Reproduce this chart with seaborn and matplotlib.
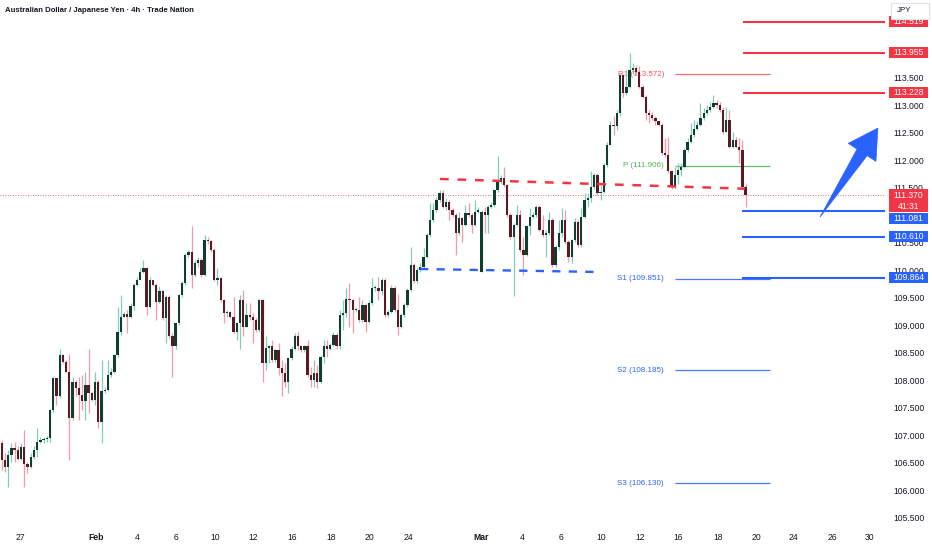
"""AUD/JPY 4h candlestick chart with support / resistance levels."""

import matplotlib

matplotlib.use("Agg")
import matplotlib.pyplot as plt
import matplotlib.transforms as mtransforms
import numpy as np
import seaborn as sns
from matplotlib.patches import Polygon, Rectangle

TITLE = "Australian Dollar / Japanese Yen \u00b7 4h \u00b7 Trade Nation"

# 4h candles (open = previous close unless listed in gap_opens)
first_open = 106.86
closes = [
    106.55, 106.43, 106.65, 106.77, 106.74, 106.58, 106.79, 106.49, 106.43, 106.60,
    106.74, 106.89, 106.92, 106.93, 106.95, 107.46, 108.04, 107.71, 108.46, 108.34,
    108.16, 107.31, 107.98, 107.86, 107.74, 107.62, 107.92, 107.77, 107.65, 107.98,
    107.25, 107.80, 107.83, 108.10, 108.16, 108.46, 108.89, 109.16, 109.21, 109.15,
    109.35, 109.74, 109.83, 109.98, 110.04, 109.34, 109.82, 109.74, 109.43, 109.62,
    109.13, 109.51, 108.80, 108.62, 109.04, 109.55, 109.77, 110.28, 110.34, 109.92,
    110.13, 110.19, 109.92, 110.55, 110.54, 110.37, 109.83, 109.86, 109.46, 109.22,
    109.25, 109.16, 108.89, 109.04, 109.46, 108.98, 109.19, 109.16, 109.10, 108.92,
    109.46, 108.31, 108.59, 108.62, 108.37, 108.56, 108.22, 108.13, 107.98, 108.40,
    108.58, 108.80, 108.62, 108.56, 108.62, 108.10, 108.01, 108.13, 107.98, 108.43,
    108.62, 108.58, 108.65, 108.83, 108.62, 109.19, 109.22, 109.49, 109.46, 109.28,
    109.29, 109.10, 109.37, 109.07, 109.40, 109.68, 109.68, 109.63, 109.83, 109.19,
    109.25, 109.68, 109.28, 108.98, 109.19, 109.37, 109.65, 110.10, 109.80, 110.01,
    110.07, 110.25, 110.65, 110.92, 111.10, 111.28, 111.40, 111.16, 111.25, 111.10,
    111.01, 110.68, 110.95, 110.83, 111.04, 111.01, 110.83, 111.07, 111.10, 111.07,
    111.01, 111.16, 111.19, 111.46, 111.61, 111.68, 111.55, 111.01, 110.61, 110.83,
    111.01, 110.37, 110.28, 110.80, 110.98, 111.01, 111.16, 110.74, 110.65, 110.68,
    110.92, 110.10, 110.43, 110.68, 110.92, 110.52, 110.25, 110.55, 110.89, 110.46,
    110.98, 111.28, 111.31, 111.52, 111.74, 111.40, 111.43, 111.92, 112.28, 112.65,
    112.62, 112.86, 113.55, 113.22, 113.34, 113.65, 113.68, 113.61, 113.34, 113.16,
    112.86, 112.83, 112.77, 112.71, 112.65, 112.13, 112.10, 111.80, 111.52, 111.74,
    111.83, 111.89, 112.19, 112.34, 112.46, 112.58, 112.65, 112.77, 112.86, 112.92,
    112.98, 113.04, 113.01, 112.92, 112.52, 112.74, 112.25, 112.37, 112.25, 112.19,
    111.52, 111.37,
]
highs = [
    106.92, 106.68, 106.74, 106.86, 106.89, 106.80, 106.86, 107.10, 106.52, 106.68,
    106.80, 107.13, 106.98, 106.98, 106.99, 107.49, 108.07, 108.01, 108.58, 108.49,
    108.37, 108.49, 108.07, 108.01, 108.07, 108.10, 108.16, 108.58, 107.80, 108.16,
    108.01, 108.37, 107.89, 108.37, 108.22, 108.49, 109.34, 109.55, 109.25, 109.28,
    109.40, 109.77, 109.89, 110.04, 110.19, 110.07, 109.89, 109.83, 109.77, 109.71,
    109.65, 109.55, 109.55, 108.86, 109.07, 109.58, 109.80, 110.31, 110.37, 110.80,
    110.19, 110.25, 110.22, 110.65, 110.61, 110.55, 110.40, 110.04, 109.89, 109.48,
    109.28, 109.27, 109.52, 109.07, 109.55, 109.65, 109.40, 109.40, 109.22, 109.13,
    109.48, 109.48, 108.80, 108.65, 108.74, 108.58, 108.68, 108.37, 108.31, 108.43,
    108.62, 108.86, 108.89, 108.64, 108.65, 108.74, 108.25, 108.37, 108.28, 108.46,
    108.74, 108.74, 108.68, 108.89, 108.86, 109.28, 109.46, 109.68, 109.77, 109.49,
    109.34, 109.52, 109.46, 109.40, 109.46, 109.86, 109.74, 109.89, 109.86, 109.86,
    109.28, 109.74, 109.71, 109.58, 109.22, 109.40, 109.68, 110.43, 110.13, 110.07,
    110.13, 110.40, 110.68, 111.22, 111.22, 111.34, 111.46, 111.46, 111.31, 111.28,
    111.13, 111.04, 111.07, 110.98, 111.19, 111.22, 111.04, 111.28, 111.16, 111.10,
    111.16, 111.19, 111.25, 111.49, 112.08, 111.74, 111.89, 111.58, 111.04, 110.86,
    111.19, 111.10, 110.61, 110.83, 111.13, 111.07, 111.19, 111.19, 111.01, 110.74,
    111.07, 110.95, 110.46, 110.92, 111.13, 111.10, 110.55, 110.58, 110.95, 110.92,
    111.13, 111.40, 111.40, 111.80, 111.77, 111.77, 111.55, 111.95, 112.34, 112.71,
    112.80, 112.92, 113.58, 113.58, 113.65, 113.96, 113.77, 113.74, 113.71, 113.37,
    113.19, 112.92, 112.89, 112.80, 112.74, 112.68, 112.40, 112.43, 111.83, 111.89,
    111.95, 111.95, 112.22, 112.40, 112.68, 112.74, 112.71, 113.04, 112.95, 113.01,
    113.07, 113.19, 113.10, 113.07, 112.98, 112.98, 112.92, 112.52, 112.43, 112.40,
    112.37, 111.58,
]
lows = [
    106.37, 106.34, 106.07, 106.52, 106.52, 106.55, 106.55, 106.07, 106.31, 106.40,
    106.58, 106.61, 106.86, 106.87, 106.89, 106.89, 107.43, 107.55, 107.68, 108.31,
    108.13, 106.55, 107.28, 107.71, 107.28, 107.46, 107.28, 107.40, 107.62, 107.55,
    107.13, 106.86, 107.77, 107.81, 108.07, 108.14, 108.43, 108.83, 109.15, 108.86,
    109.13, 109.29, 109.72, 109.84, 109.96, 109.19, 109.31, 109.71, 109.10, 109.40,
    109.10, 108.68, 108.77, 108.07, 108.58, 109.01, 109.52, 109.74, 110.25, 109.68,
    109.89, 110.07, 109.89, 109.90, 110.49, 110.34, 109.80, 109.74, 109.43, 109.04,
    109.16, 109.13, 108.86, 108.74, 108.58, 108.80, 108.98, 109.10, 108.68, 108.89,
    108.89, 107.98, 108.19, 108.31, 108.34, 108.34, 108.10, 107.71, 107.89, 107.77,
    108.37, 108.56, 108.56, 108.52, 108.52, 108.07, 107.89, 107.89, 107.86, 107.95,
    108.31, 108.43, 108.56, 108.62, 108.58, 108.58, 108.92, 109.16, 108.98, 108.86,
    109.25, 109.07, 109.07, 108.89, 109.04, 109.37, 109.62, 109.46, 109.55, 109.16,
    109.16, 109.22, 109.25, 108.83, 108.95, 109.16, 109.34, 109.62, 109.77, 109.77,
    109.98, 110.04, 110.22, 110.61, 110.89, 111.07, 111.25, 111.13, 111.10, 110.92,
    110.98, 110.28, 110.65, 110.52, 110.80, 110.98, 110.68, 110.80, 111.04, 109.98,
    110.68, 110.68, 111.13, 111.16, 111.43, 111.58, 111.52, 110.98, 110.58, 109.54,
    110.80, 110.34, 109.92, 110.26, 110.65, 110.95, 110.98, 110.71, 110.61, 110.25,
    110.65, 110.07, 110.07, 110.37, 110.61, 110.49, 110.16, 110.13, 110.52, 110.43,
    110.43, 110.95, 111.16, 111.25, 111.49, 111.37, 111.28, 111.40, 111.89, 112.28,
    112.46, 112.55, 112.80, 113.16, 113.19, 113.31, 113.58, 113.58, 113.31, 113.13,
    112.74, 112.68, 112.74, 112.65, 112.62, 112.10, 112.07, 111.77, 111.49, 111.49,
    111.58, 111.71, 111.86, 112.16, 112.31, 112.43, 112.55, 112.62, 112.74, 112.83,
    112.89, 112.95, 112.95, 112.89, 112.49, 112.52, 112.22, 112.22, 112.22, 111.95,
    111.49, 111.16,
]
# weekend gap (candle index -> open price)
gap_opens = {149: 109.98}

# x axis: candle index where each date label sits
tick_pos = [5.9, 29.2, 42.0, 54.1, 66.2, 78.2, 90.1, 102.3, 114.1, 126.2,
            148.9, 161.6, 173.7, 186.1, 198.2, 210.0, 222.5, 234.3, 246.0, 257.9, 269.4]
tick_labels = ["27", "Feb", "4", "6", "10", "12", "16", "18", "20", "24",
               "Mar", "4", "6", "10", "12", "16", "18", "20", "24", "26", "30"]
# price scale labels (111.000 and 114.000 sit under the level tags)
price_ticks = [105.5, 106.0, 106.5, 107.0, 107.5, 108.0, 108.5, 109.0, 109.5,
               110.0, 110.5, 111.5, 112.0, 112.5, 113.0, 113.5]

resistance_levels = [114.519, 113.955, 113.228]
support_levels = [111.081, 110.610, 109.864]
last_price = 111.370
countdown = "41:31"

pivot_names = ["R1", "P", "S1", "S2", "S3"]
pivot_values = [113.572, 111.906, 109.851, 108.185, 106.130]

red_trend_x = [136.1, 230.8]
red_trend_y = [111.664, 111.487]
blue_trend_x = [129.9, 185.2]
blue_trend_y = [110.027, 109.973]

arrow_from = (254.1, 110.97)
arrow_to = (272.1, 112.59)

RED = "#f23645"
BLUE = "#2962ff"
GREEN = "#4caf50"
TEXT = "#131722"
UP_BODY, DOWN_BODY = "#0f3d2f", "#5a1a24"
UP_WICK, DOWN_WICK = "#82cdb9", "#f29aa6"
FONT = ["Liberation Sans", "DejaVu Sans"]
TAG_H = 0.2  # height of a price tag, in price units


def draw_candles(ax):
    n = len(closes)
    x = np.arange(n)
    close = np.array(closes)
    opens = np.array([first_open] + closes[:-1])
    for i, value in gap_opens.items():
        opens[i] = value
    up = close >= opens
    wick_colors = np.where(up, UP_WICK, DOWN_WICK)
    body_colors = np.where(up, UP_BODY, DOWN_BODY)
    ax.vlines(x, lows, highs, colors=wick_colors, linewidth=0.9, zorder=3)
    bottom = np.minimum(opens, close)
    height = np.maximum(np.abs(close - opens), 0.012)
    ax.bar(x, height, bottom=bottom, width=0.72, color=body_colors, linewidth=0, zorder=4)


def draw_arrow(ax):
    p0 = ax.transData.transform(arrow_from)
    p1 = ax.transData.transform(arrow_to)
    u = (p1 - p0) / np.hypot(*(p1 - p0))
    n = np.array([-u[1], u[0]])
    base = p1 - u * 29
    pts = [p0, base + n * 6, base + n * 16.5, p1, base - n * 16.5, base - n * 6]
    ax.add_patch(Polygon(pts, closed=True, facecolor=BLUE, edgecolor=BLUE,
                         linewidth=0.5, transform=mtransforms.IdentityTransform(), zorder=8))


def price_tag(fig, ax, y, color, height=TAG_H):
    trans = mtransforms.blended_transform_factory(fig.transFigure, ax.transData)
    ax.add_patch(Rectangle((889 / 932, y - height / 2), 39 / 932, height, transform=trans,
                           facecolor=color, edgecolor="none", clip_on=False, zorder=10))


def tag_text(fig, ax, y, text):
    trans = mtransforms.blended_transform_factory(fig.transFigure, ax.transData)
    ax.text(908.5 / 932, y, text, transform=trans, color="white", fontsize=6.2,
            ha="center", va="center", zorder=11, clip_on=False)


def main() -> None:
    sns.set_theme(style="white")
    plt.rcParams["font.family"] = FONT

    fig = plt.figure(figsize=(9.32, 5.5), dpi=100)
    fig.patch.set_facecolor("white")
    ax = fig.add_axes([0, 23 / 550, 885 / 932, 527 / 550])
    ax.set_facecolor("white")
    ax.set_xlim(-0.53, 274.3)
    ax.set_ylim(105.336, 114.918)
    for spine in ax.spines.values():
        spine.set_visible(False)

    # current price dotted line
    ax.axhline(last_price, color=RED, linewidth=0.6, linestyle=(0, (1, 2)), zorder=2)

    # pivot points
    pivot_colors = ["#f7525f", GREEN, BLUE, BLUE, BLUE]
    for name, value, color in zip(pivot_names, pivot_values, pivot_colors):
        ax.hlines(value, 209.1, 238.6, color=color, linewidth=0.9, alpha=0.85, zorder=2)
        ax.text(205.7, value, f"{name} ({value:.3f})", color=color, fontsize=5.8,
                ha="right", va="center", zorder=2)

    draw_candles(ax)

    # trend lines
    sns.lineplot(x=red_trend_x, y=red_trend_y, ax=ax, color=RED, linewidth=1.8, zorder=6)
    ax.lines[-1].set_dashes((3.5, 3.5))
    sns.lineplot(x=blue_trend_x, y=blue_trend_y, ax=ax, color=BLUE, linewidth=1.7, zorder=6)
    ax.lines[-1].set_dashes((3.5, 3.5))

    # support / resistance levels
    ax.hlines(resistance_levels, 230.3, 274.3, color=RED, linewidth=1.5, zorder=5)
    ax.hlines(support_levels, 229.9, 274.3, color=BLUE, linewidth=1.5, zorder=5)

    draw_arrow(ax)

    # axes
    ax.yaxis.tick_right()
    ax.set_yticks(price_ticks)
    ax.set_yticklabels([f"{v:.3f}" for v in price_ticks])
    ax.tick_params(axis="y", length=0, pad=5.8, labelsize=6.2, labelcolor=TEXT)
    ax.set_xticks(tick_pos)
    ax.set_xticklabels(tick_labels)
    ax.tick_params(axis="x", length=0, pad=4.5, labelsize=6.2, labelcolor=TEXT)
    for label in ax.get_xticklabels():
        if label.get_text() in ("Feb", "Mar"):
            label.set_fontweight("bold")
    ax.grid(False)

    # price tags on the scale; the nearest support tag is pushed below the live price tag
    tag_offsets = [0.0, 0.0, 0.0]
    support_tag_y = [support_levels[0] - 0.136, support_levels[1], support_levels[2]]
    for value, off in zip(resistance_levels, tag_offsets):
        price_tag(fig, ax, value + off, RED)
        tag_text(fig, ax, value + off, f"{value:.3f}")
    for value, y in zip(support_levels, support_tag_y):
        price_tag(fig, ax, y, BLUE)
        tag_text(fig, ax, y, f"{value:.3f}")
    price_tag(fig, ax, 111.268, RED, height=0.427)
    tag_text(fig, ax, 111.364, f"{last_price:.3f}")
    tag_text(fig, ax, 111.170, countdown)

    # currency box and title
    fig.patches.append(Rectangle((891 / 932, 1 - 18.5 / 550), 38 / 932, 16 / 550,
                                 transform=fig.transFigure, facecolor="white",
                                 edgecolor="#e0e3eb", linewidth=0.8, zorder=20))
    fig.text(897 / 932, 1 - 10.5 / 550, "JPY", fontsize=5.8, color=TEXT, va="center", zorder=21)
    fig.text(5 / 932, 1 - 10 / 550, TITLE, fontsize=5.6, color=TEXT, va="center",
             fontweight="bold", family=["Liberation Sans Narrow", "Liberation Sans"])

    fig.savefig("out.png", dpi=100, facecolor="white")
    plt.close(fig)


if __name__ == "__main__":
    main()
